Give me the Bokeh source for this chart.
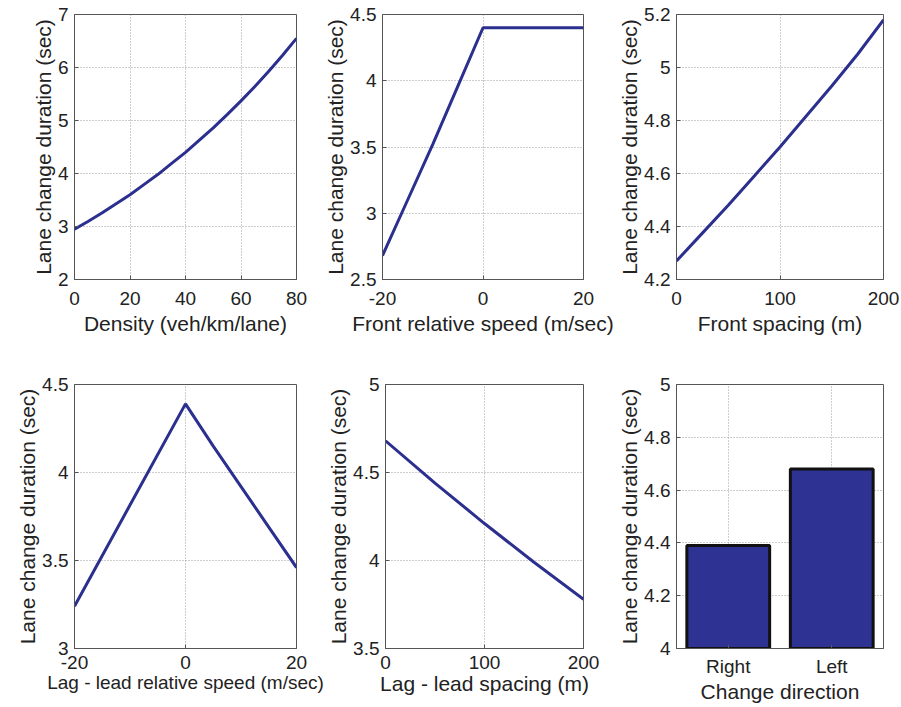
from bokeh.plotting import figure
from bokeh.layouts import column, row
from bokeh.models import Range1d, FactorRange, FixedTicker
from bokeh.embed import file_html
from bokeh.resources import INLINE

# ---------------- data ----------------
density = [0, 5, 10, 15, 20, 25, 30, 35, 40, 45, 50, 55, 60, 65, 70, 75, 80]
dur_density = [2.95, 3.10, 3.26, 3.43, 3.60, 3.79, 3.98, 4.19, 4.40,
               4.63, 4.86, 5.11, 5.37, 5.64, 5.93, 6.23, 6.55]

front_speed = [-20, -15, -10, -5, 0, 5, 10, 15, 20]
dur_front_speed = [2.68, 3.10, 3.52, 3.96, 4.40, 4.40, 4.40, 4.40, 4.40]

front_spacing = [0, 25, 50, 75, 100, 125, 150, 175, 200]
dur_front_spacing = [4.27, 4.375, 4.48, 4.59, 4.70, 4.815, 4.93, 5.05, 5.18]

lag_speed = [-20, -10, 0, 5, 10, 15, 20]
dur_lag_speed = [3.24, 3.815, 4.39, 4.15, 3.92, 3.69, 3.46]

lag_spacing = [0, 50, 100, 150, 200]
dur_lag_spacing = [4.68, 4.44, 4.21, 3.99, 3.78]

direction = ["Right", "Left"]
dur_direction = [4.39, 4.68]

# tick values / labels
x1_ticks = [0, 20, 40, 60, 80];        y1_ticks = [2, 3, 4, 5, 6, 7]
x2_ticks = [-20, 0, 20];               y2_ticks = [2.5, 3, 3.5, 4, 4.5]
x3_ticks = [0, 100, 200];              y3_ticks = [4.2, 4.4, 4.6, 4.8, 5, 5.2]
x4_ticks = [-20, 0, 20];               y4_ticks = [3, 3.5, 4, 4.5]
x5_ticks = [0, 100, 200];              y5_ticks = [3.5, 4, 4.5, 5]
y6_ticks = [4, 4.2, 4.4, 4.6, 4.8, 5]

y_label = "Lane change duration (sec)"
x_labels = ["Density (veh/km/lane)", "Front relative speed (m/sec)", "Front spacing (m)",
            "Lag - lead relative speed (m/sec)", "Lag - lead spacing (m)", "Change direction"]

LINE = "#2B2F8E"
BAR = "#2E3293"
FONT = "Liberation Sans"
TXT = "#222222"
TICK_FS = "19px"
LAB_FS = "21px"


def fmt(v):
    return "%g" % v


def style(p, xt, yt, x_standoff, xl_standoff, xlab_fs=LAB_FS):
    p.outline_line_color = "#555555"
    p.outline_line_width = 1
    p.background_fill_color = "white"
    p.border_fill_color = "white"
    for ax in (p.xaxis[0], p.yaxis[0]):
        ax.axis_line_color = "#555555"
        ax.major_tick_in = 4
        ax.major_tick_out = 0
        ax.minor_tick_line_color = None
        ax.major_tick_line_color = "#555555"
        ax.major_label_text_font = FONT
        ax.major_label_text_font_size = TICK_FS
        ax.major_label_text_color = TXT
        ax.axis_label_text_font = FONT
        ax.axis_label_text_font_size = LAB_FS
        ax.axis_label_text_font_style = "normal"
        ax.axis_label_text_color = TXT
    p.xaxis[0].axis_label_text_font_size = xlab_fs
    if xt is not None:
        p.xaxis[0].ticker = FixedTicker(ticks=xt)
        p.xaxis[0].major_label_overrides = {t: fmt(t) for t in xt}
    p.yaxis[0].ticker = FixedTicker(ticks=yt)
    p.yaxis[0].major_label_overrides = {t: fmt(t) for t in yt}
    p.xaxis[0].major_label_standoff = x_standoff
    p.xaxis[0].axis_label_standoff = xl_standoff
    p.yaxis[0].major_label_standoff = 6
    p.yaxis[0].axis_label_standoff = 0
    for g in (p.xgrid[0], p.ygrid[0]):
        g.grid_line_color = "#9a9a9a"
        g.grid_line_dash = "1 2"
        g.grid_line_width = 1


# per-row column geometry: (fig width, left border, right border)
geom_cols = [
    [(320, 74, 24), (295, 62, 32), (286, 58, 18)],
    [(324, 74, 28), (291, 58, 32), (286, 58, 18)],
]
# row geometry (fig height, top border, bottom border, x tick standoff, x label standoff)
geom_rows = [(372, 14, 93, 12, 4), (333, 12, 57, 7, 0)]


def mk(ci, ri, xr, yr, xlabel):
    w, bl, br = geom_cols[ri][ci]
    h, bt, bb, xs, xls = geom_rows[ri]
    p = figure(width=w, height=h, x_range=xr, y_range=yr,
               output_backend="svg", toolbar_location=None,
               min_border_left=bl, min_border_right=br,
               min_border_top=bt, min_border_bottom=bb)
    p.xaxis.axis_label = xlabel
    p.yaxis.axis_label = y_label
    return p, xs, xls


p1, xs, xls = mk(0, 0, Range1d(0, 80), Range1d(2, 7), x_labels[0])
p1.line(density, dur_density, line_color=LINE, line_width=3)
style(p1, x1_ticks, y1_ticks, xs, xls)

p2, xs, xls = mk(1, 0, Range1d(-20, 20), Range1d(2.5, 4.5), x_labels[1])
p2.line(front_speed, dur_front_speed, line_color=LINE, line_width=3)
style(p2, x2_ticks, y2_ticks, xs, xls)

p3, xs, xls = mk(2, 0, Range1d(0, 200), Range1d(4.2, 5.2), x_labels[2])
p3.line(front_spacing, dur_front_spacing, line_color=LINE, line_width=3)
style(p3, x3_ticks, y3_ticks, xs, xls)

p4, xs, xls = mk(0, 1, Range1d(-20, 20), Range1d(3, 4.5), x_labels[3])
p4.line(lag_speed, dur_lag_speed, line_color=LINE, line_width=3)
style(p4, x4_ticks, y4_ticks, xs, xls, xlab_fs="19px")

p5, xs, xls = mk(1, 1, Range1d(0, 200), Range1d(3.5, 5), x_labels[4])
p5.line(lag_spacing, dur_lag_spacing, line_color=LINE, line_width=3)
style(p5, x5_ticks, y5_ticks, xs, xls)

p6, xs, xls = mk(2, 1, FactorRange(factors=direction, range_padding=0), Range1d(4, 5), x_labels[5])
p6.vbar(x=direction, top=dur_direction, bottom=4, width=0.8,
        fill_color=BAR, line_color="#111111", line_width=3)
style(p6, None, y6_ticks, xs, xls)

layout = column(row(p1, p2, p3), row(p4, p5, p6))

with open("out.html", "w") as f:
    f.write(file_html(layout, INLINE))
